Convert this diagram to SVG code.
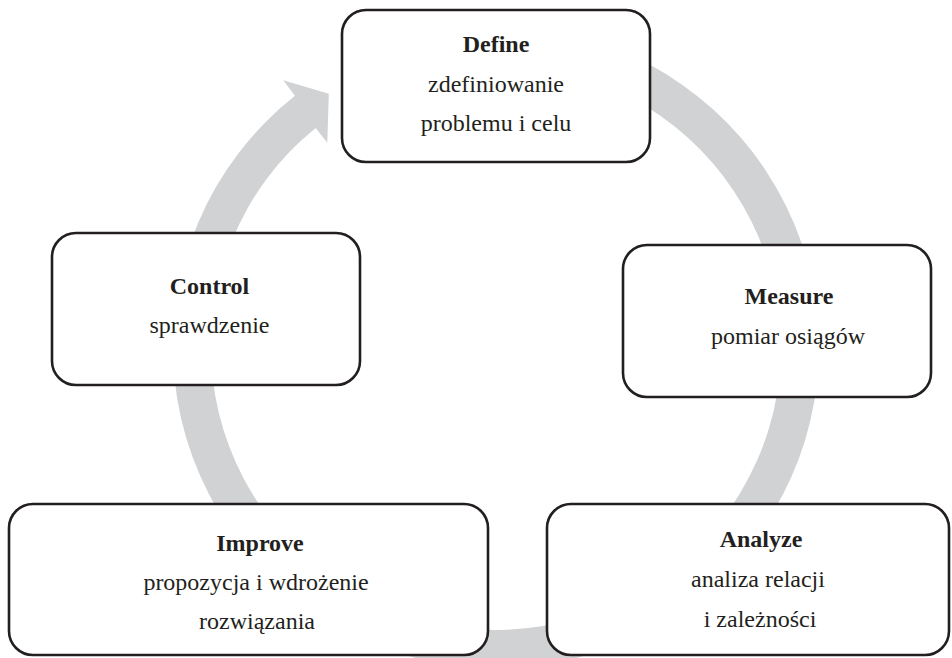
<svg xmlns="http://www.w3.org/2000/svg" width="952" height="658" viewBox="0 0 952 658">
<style>
.box{fill:#ffffff;stroke:#231f20;stroke-width:2.6}
.t{font-family:"Liberation Serif","Times New Roman",serif;font-size:24px;fill:#231f20;text-anchor:middle}
.b{font-weight:bold}
.ring{fill:#d1d2d4;stroke:none}
</style>
<rect width="952" height="658" fill="#ffffff"/>
<g id="connectors">
<path class="ring" d="M 375.0 49.38 A 323 321 0 1 1 294.93 95.78 L 283.3 80.2 L 328.8 93.8 L 327.3 142.7 L 315.64 127.88 A 285 283 0 1 0 389.24 84.61 Z"/>
</g>
<g id="define">
<rect class="box" x="342" y="10" width="308" height="152" rx="24"/>
<text class="t b" x="496" y="52">Define</text>
<text class="t" x="496" y="92">zdefiniowanie</text>
<text class="t" x="496" y="131">problemu i celu</text>
</g>
<g id="measure">
<rect class="box" x="623" y="245" width="308" height="152" rx="24"/>
<text class="t b" x="789" y="304">Measure</text>
<text class="t" x="788" y="344">pomiar osiągów</text>
</g>
<g id="analyze">
<rect class="box" x="547" y="504" width="402" height="151" rx="24"/>
<text class="t b" x="761" y="547">Analyze</text>
<text class="t" x="758" y="587">analiza relacji</text>
<text class="t" x="760" y="627">i zależności</text>
</g>
<g id="improve">
<rect class="box" x="9" y="504" width="479" height="151" rx="24"/>
<text class="t b" x="260" y="551">Improve</text>
<text class="t" x="256" y="590">propozycja i wdrożenie</text>
<text class="t" x="257" y="629">rozwiązania</text>
</g>
<g id="control">
<rect class="box" x="52" y="233" width="308" height="152" rx="24"/>
<text class="t b" x="209.5" y="294">Control</text>
<text class="t" x="209.5" y="333">sprawdzenie</text>
</g>
</svg>
